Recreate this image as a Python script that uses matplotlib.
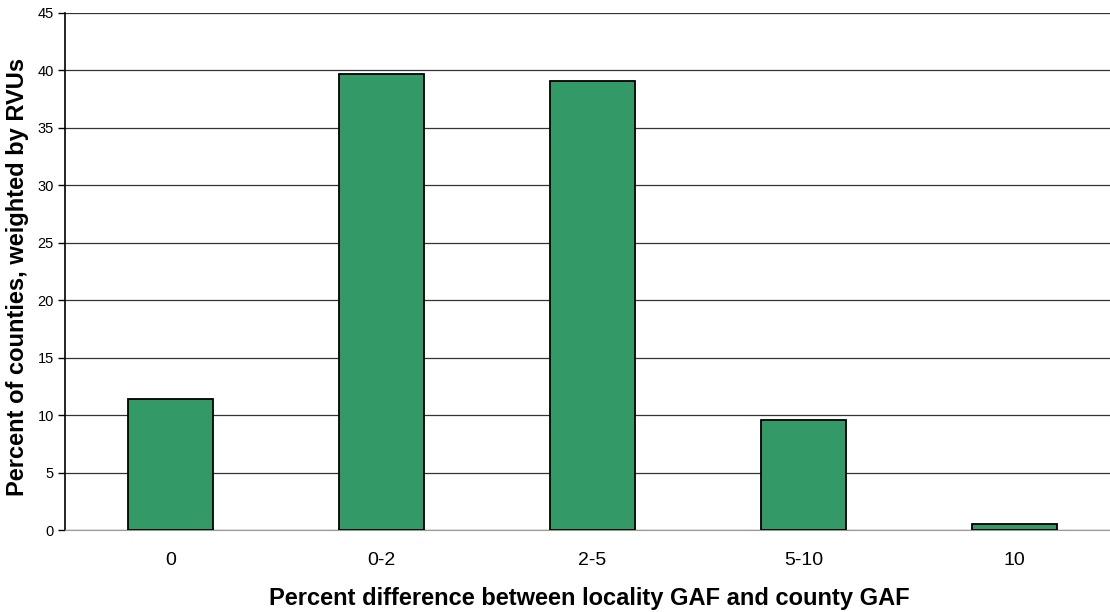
import matplotlib
matplotlib.use('Agg')
import matplotlib.pyplot as plt
import numpy as np

plt.rcParams['font.family'] = ['Liberation Sans', 'DejaVu Sans']

# Share of counties (RVU-weighted) by GAF difference bucket
categories = ['0', '0-2', '2-5', '5-10', '10']
percents = [11.4, 39.7, 39.1, 9.6, 0.5]

x = np.arange(len(categories))

fig = plt.figure(figsize=(11.1, 6.12), dpi=100)
ax = fig.add_axes([65 / 1110, 1 - 530 / 612, 1055 / 1110, 517 / 612])

ax.set_ylim(0, 45)
ax.set_yticks(np.arange(0, 46, 5))
ax.yaxis.grid(True, color='#333333', linewidth=0.9)
ax.set_axisbelow(True)

ax.bar(x, percents, width=0.4, color='#339966', edgecolor='black', linewidth=1.3, zorder=3)

ax.set_xlim(-0.5, 4.5)
ax.set_xticks(x)
ax.set_xticklabels(categories, fontsize=14)
ax.tick_params(axis='x', length=0, pad=16)
ax.tick_params(axis='y', labelsize=10.5, length=5, width=1, pad=3)

for side in ['top', 'right']:
    ax.spines[side].set_visible(False)
ax.spines['bottom'].set_color('#999999')
ax.spines['left'].set_linewidth(1.2)

ax.set_xlabel('Percent difference between locality GAF and county GAF',
              fontsize=17, fontweight='bold')
ax.set_ylabel('Percent of counties, weighted by RVUs',
              fontsize=17, fontweight='bold')
ax.xaxis.set_label_coords(0.497, -68 / 517)
ax.yaxis.set_label_coords(-47 / 1055, 0.49)
ax.xaxis.label.set_va('center')
ax.yaxis.label.set_va('center')

fig.savefig('out.png', dpi=100)
